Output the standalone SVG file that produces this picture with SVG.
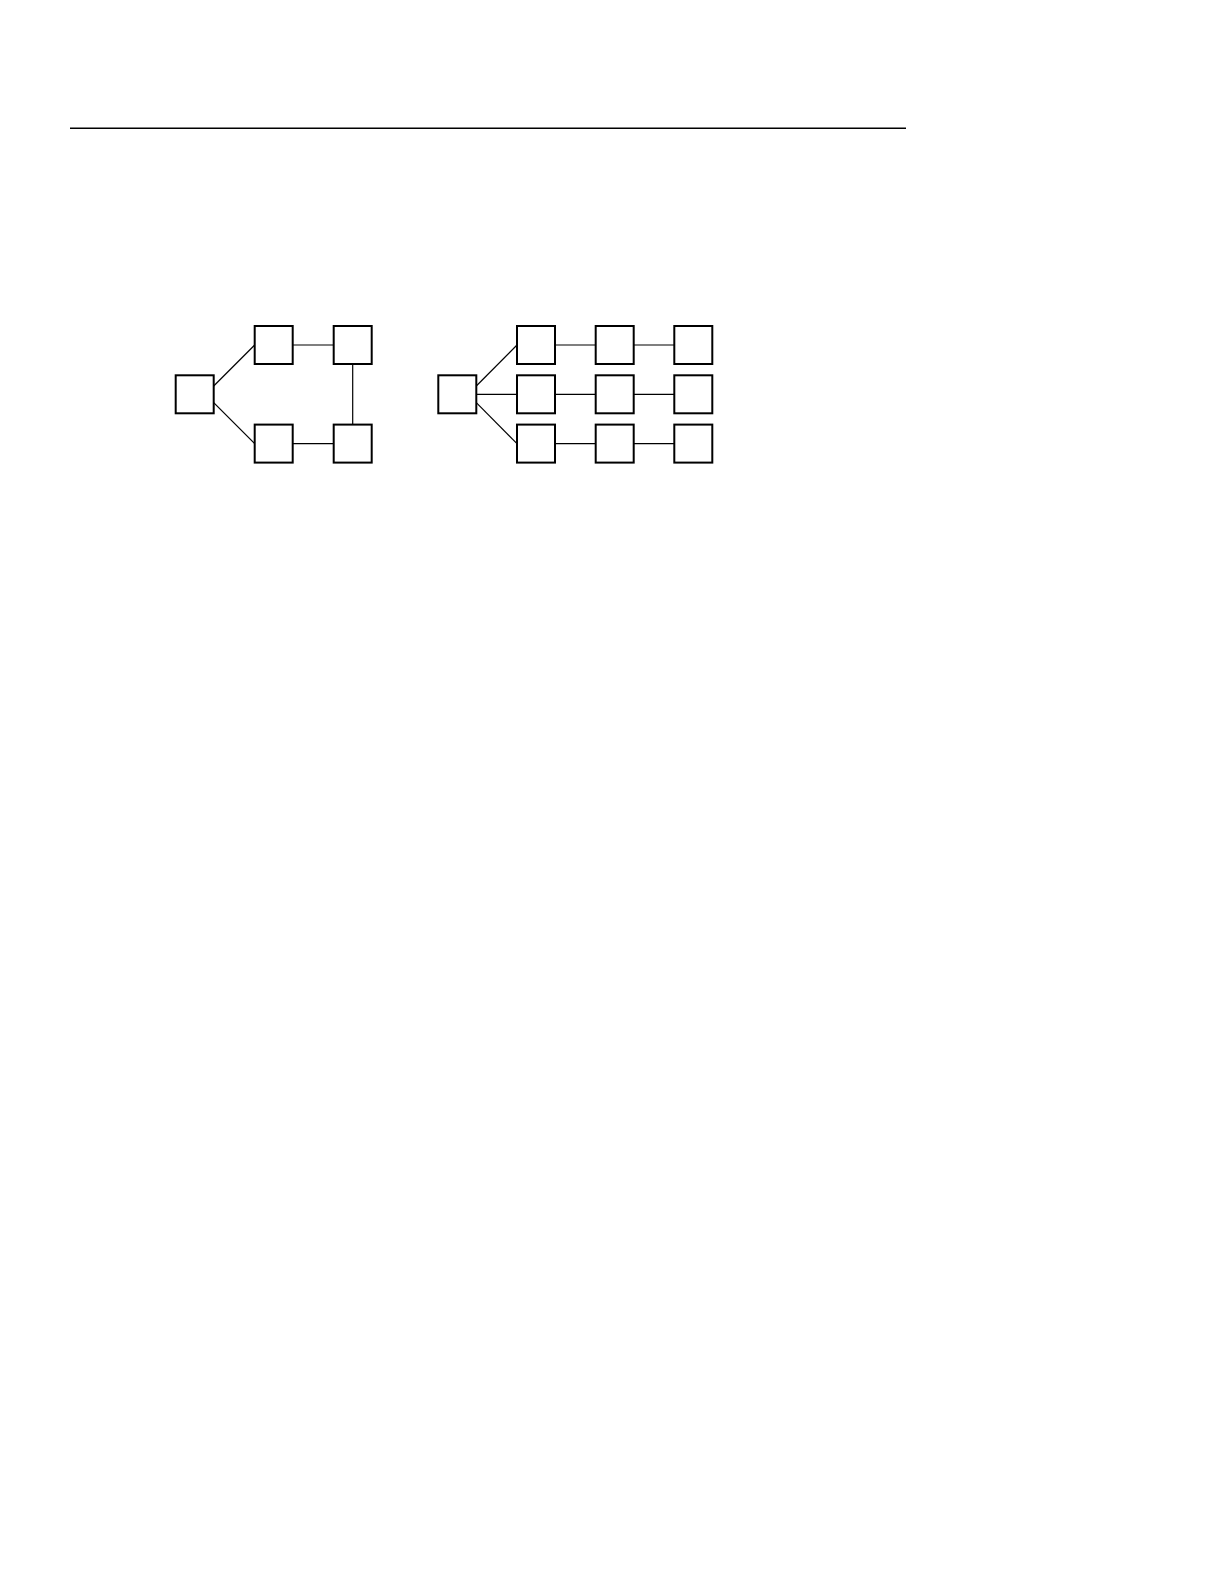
<svg xmlns="http://www.w3.org/2000/svg" width="1224" height="1584" viewBox="0 0 1224 1584">
<style>
.n{fill:#fff;stroke:#000;stroke-width:2}
.c line{stroke:#000;stroke-width:1.2}
</style>
<rect width="1224" height="1584" fill="#fff"/>
<line x1="70" y1="128.3" x2="906" y2="128.3" stroke="#000" stroke-width="1.4"/>
<g class="c" id="connectors">
<line x1="213.7" y1="386" x2="254.7" y2="345"/>
<line x1="213.7" y1="402.6" x2="254.7" y2="443.6"/>
<line x1="292.7" y1="345" x2="333.7" y2="345"/>
<line x1="292.7" y1="443.6" x2="333.7" y2="443.6"/>
<line x1="352.7" y1="364" x2="352.7" y2="424.6"/>
<line x1="476.3" y1="386" x2="517" y2="345"/>
<line x1="476.3" y1="394.3" x2="517" y2="394.3"/>
<line x1="476.3" y1="402.6" x2="517" y2="443.6"/>
<line x1="555" y1="345" x2="595.7" y2="345"/>
<line x1="633.7" y1="345" x2="674.3" y2="345"/>
<line x1="555" y1="394.3" x2="595.7" y2="394.3"/>
<line x1="633.7" y1="394.3" x2="674.3" y2="394.3"/>
<line x1="555" y1="443.6" x2="595.7" y2="443.6"/>
<line x1="633.7" y1="443.6" x2="674.3" y2="443.6"/>
</g>
<g id="a0"><rect class="n" x="175.7" y="375.3" width="38" height="38"/></g>
<g id="a1"><rect class="n" x="254.7" y="326" width="38" height="38"/></g>
<g id="a2"><rect class="n" x="333.7" y="326" width="38" height="38"/></g>
<g id="a3"><rect class="n" x="254.7" y="424.6" width="38" height="38"/></g>
<g id="a4"><rect class="n" x="333.7" y="424.6" width="38" height="38"/></g>
<g id="b0"><rect class="n" x="438.3" y="375.3" width="38" height="38"/></g>
<g id="b11"><rect class="n" x="517" y="326" width="38" height="38"/></g>
<g id="b12"><rect class="n" x="595.7" y="326" width="38" height="38"/></g>
<g id="b13"><rect class="n" x="674.3" y="326" width="38" height="38"/></g>
<g id="b21"><rect class="n" x="517" y="375.3" width="38" height="38"/></g>
<g id="b22"><rect class="n" x="595.7" y="375.3" width="38" height="38"/></g>
<g id="b23"><rect class="n" x="674.3" y="375.3" width="38" height="38"/></g>
<g id="b31"><rect class="n" x="517" y="424.6" width="38" height="38"/></g>
<g id="b32"><rect class="n" x="595.7" y="424.6" width="38" height="38"/></g>
<g id="b33"><rect class="n" x="674.3" y="424.6" width="38" height="38"/></g>
</svg>
